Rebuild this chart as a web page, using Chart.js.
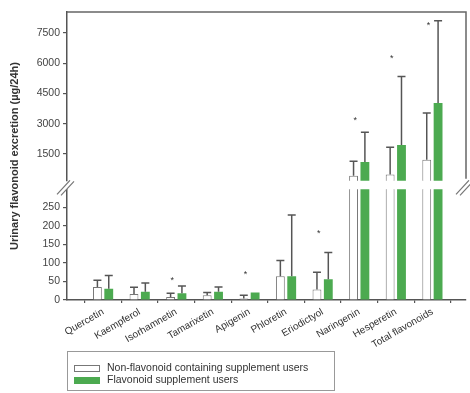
<!DOCTYPE html>
<html>
<head>
<meta charset="utf-8">
<script src="https://cdn.jsdelivr.net/npm/chart.js@4.4.1/dist/chart.umd.min.js"></script>
<style>
  body { margin: 0; background: #fff; font-family: "Liberation Sans", Arial, sans-serif; }
  #wrap { position: relative; width: 470px; height: 393px; overflow: hidden; }
  #c-top { position: absolute; left: 0; top: 0; }
  #c-bot { position: absolute; left: 0; top: 180px; }
  #ytitle {
    position: absolute; left: -105px; top: 149px; width: 240px; height: 14px;
    text-align: center; white-space: nowrap; font-size: 11px; font-weight: bold; color: #333;
    transform: rotate(-90deg);
  }
  #legend {
    position: absolute; left: 67px; top: 351px; width: 268px; height: 40px;
    border: 1px solid #999; box-sizing: border-box; font-size: 10.5px; color: #333;
  }
  .lg-row { position: absolute; left: 6px; height: 12px; line-height: 12px; white-space: nowrap; }
  .lg-sw { display: inline-block; width: 26px; height: 7px; vertical-align: middle; margin-right: 7px; box-sizing: border-box; }
</style>
</head>
<body>
<div id="wrap">
  <canvas id="c-top" width="470" height="190"></canvas>
  <canvas id="c-bot" width="470" height="213"></canvas>
  <div id="ytitle">Urinary flavonoid excretion (µg/24h)</div>
  <div id="legend">
    <div class="lg-row" style="top:9px;"><span class="lg-sw" style="background:#fff;border:1px solid #777;"></span>Non-flavonoid containing supplement users</div>
    <div class="lg-row" style="top:21px;"><span class="lg-sw" style="background:#4caa50;"></span>Flavonoid supplement users</div>
  </div>
</div>
<script>
// data
var categories = ['Quercetin', 'Kaempferol', 'Isorhamnetin', 'Tamarixetin', 'Apigenin',
                  'Phloretin', 'Eriodictyol', 'Naringenin', 'Hesperetin', 'Total flavonoids'];
var nonFlavMean = [35, 16, 8, 13, 4, 64, 28, 425, 490, 1220];
var nonFlavErr  = [53, 34, 18, 20, 13, 106, 75, 1143, 1842, 3537];   // top of error bar
var flavMean    = [30, 22, 18, 22, 20, 64, 56, 1110, 1955, 4025];
var flavErr     = [66, 46, 38, 35, 20, 229, 128, 2575, 5345, 8110];
var starAt      = [null, null, 58, null, 75, null, 184, 3260, 6350, 7980];
var upperTicks  = [1500, 3000, 4500, 6000, 7500];
var lowerTicks  = [0, 50, 100, 150, 200, 250];
var lowerMax = 298;   // top of the lower (broken) segment

Chart.defaults.font.family = '"Liberation Sans", Arial, sans-serif';
Chart.defaults.font.size = 10;
Chart.defaults.color = '#333';

var AXIS = '#555';
var GREEN = '#4caa50';

function toXY(arr) {
  return arr.map(function(v, i) { return { x: i, y: v }; });
}

function makeDatasets() {
  return [
    { label: 'Non-flavonoid containing supplement users', data: toXY(nonFlavMean),
      backgroundColor: '#fff', borderColor: '#777', borderWidth: 1,
      categoryPercentage: 0.62, barPercentage: 0.78 },
    { label: 'Flavonoid supplement users', data: toXY(flavMean),
      backgroundColor: GREEN, borderColor: GREEN, borderWidth: 0,
      categoryPercentage: 0.62, barPercentage: 0.78 }
  ];
}

// error bars + asterisks, clipped to the plot area
var errorBars = {
  id: 'errorBars',
  afterDatasetsDraw: function(chart, args, opts) {
    var ctx = chart.ctx, a = chart.chartArea, ys = chart.scales.y, xs = chart.scales.x;
    var floor = opts.floor || -Infinity;
    var means = [nonFlavMean, flavMean], errs = [nonFlavErr, flavErr];
    ctx.save();
    ctx.beginPath();
    ctx.rect(a.left, a.top - 2, a.right - a.left, a.bottom - a.top + 2);
    ctx.clip();
    ctx.strokeStyle = '#555';
    ctx.lineWidth = 1.5;
    errs.forEach(function(e, d) {
      chart.getDatasetMeta(d).data.forEach(function(bar, i) {
        if (e[i] <= means[d][i] || e[i] <= floor) return;
        var top = ys.getPixelForValue(e[i]);
        ctx.beginPath();
        ctx.moveTo(bar.x, bar.y);
        ctx.lineTo(bar.x, top);
        ctx.moveTo(bar.x - 4, top);
        ctx.lineTo(bar.x + 4, top);
        ctx.stroke();
      });
    });
    ctx.restore();

    ctx.save();
    ctx.fillStyle = '#333';
    ctx.font = '9px "Liberation Sans", Arial, sans-serif';
    ctx.textAlign = 'center';
    ctx.textBaseline = 'middle';
    starAt.forEach(function(s, i) {
      if (s === null || s <= floor) return;
      var py = ys.getPixelForValue(s);
      if (py < a.top || py > a.bottom) return;
      ctx.fillText('*', xs.getPixelForValue(i) - 4, py + 2);
    });
    ctx.restore();
  }
};

function breakMark(ctx, x, y) {
  ctx.save();
  ctx.strokeStyle = '#777';
  ctx.lineWidth = 1.2;
  ctx.beginPath();
  ctx.moveTo(x - 8, y + 8); ctx.lineTo(x + 5, y - 6);
  ctx.moveTo(x - 4, y + 9); ctx.lineTo(x + 9, y - 5);
  ctx.stroke();
  ctx.restore();
}

var topFrame = {
  id: 'topFrame',
  afterDraw: function(chart) {
    var ctx = chart.ctx, a = chart.chartArea;
    ctx.save();
    ctx.strokeStyle = '#666';
    ctx.lineWidth = 1.5;
    ctx.beginPath();
    ctx.moveTo(a.left, a.top);
    ctx.lineTo(a.right, a.top);
    ctx.lineTo(a.right, a.bottom - 2);
    ctx.stroke();
    ctx.restore();
  }
};

var breaks = {
  id: 'breaks',
  afterDraw: function(chart) {
    var a = chart.chartArea;
    breakMark(chart.ctx, a.left - 2, a.top - 3);
    breakMark(chart.ctx, a.right - 2, a.top - 3);
  }
};

var xBase = {
  type: 'linear', min: -0.986, max: 9.918, offset: false
};

function yAxis(min, max, ticks) {
  return {
    min: min, max: max,
    afterFit: function(s) { s.width = 67; },
    afterBuildTicks: function(s) { s.ticks = ticks.map(function(v) { return { value: v }; }); },
    grid: { drawOnChartArea: false, tickLength: 4, color: AXIS, lineWidth: 1.2 },
    border: { display: true, color: AXIS, width: 1.5 },
    ticks: {
      padding: 3, color: '#444', font: { size: 10.5 },
      callback: function(v) { return String(v); }
    }
  };
}

new Chart(document.getElementById('c-top'), {
  type: 'bar',
  data: { datasets: makeDatasets() },
  options: {
    responsive: false,
    animation: false,
    layout: { padding: { top: 12, bottom: 7, left: 0, right: 4 } },
    plugins: { legend: { display: false }, tooltip: { enabled: false }, errorBars: { floor: lowerMax } },
    scales: {
      x: Object.assign({}, xBase, { display: false }),
      y: yAxis(180, 8540, upperTicks)
    }
  },
  plugins: [errorBars, topFrame]
});

new Chart(document.getElementById('c-bot'), {
  type: 'bar',
  data: { datasets: makeDatasets() },
  options: {
    responsive: false,
    animation: false,
    layout: { padding: { top: 8, bottom: 33, left: 0, right: 4 } },
    plugins: { legend: { display: false }, tooltip: { enabled: false } },
    scales: {
      x: Object.assign({}, xBase, {
        afterFit: function(s) { s.height = 60; },
        grid: { drawOnChartArea: false, tickLength: 3, color: AXIS, lineWidth: 1.2 },
        border: { display: true, color: AXIS, width: 1.5 },
        ticks: {
          stepSize: 1, includeBounds: false, autoSkip: false,
          minRotation: 30, maxRotation: 30, padding: 3, color: '#333',
          font: { size: 10 },
          callback: function(v) { return Number.isInteger(v) ? categories[v] : ''; }
        }
      }),
      y: yAxis(0, lowerMax, lowerTicks)
    }
  },
  plugins: [errorBars, breaks]
});
</script>
</body>
</html>
